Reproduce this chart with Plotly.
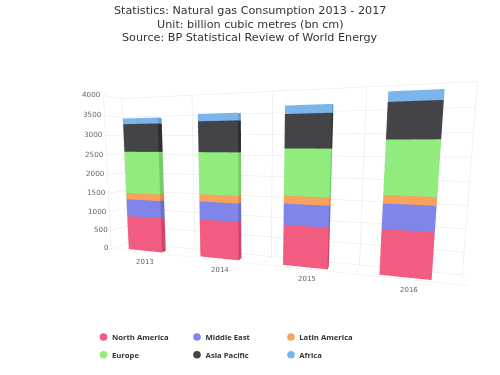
import plotly.graph_objects as go

years = ["2013", "2014", "2015", "2016"]
series = ["North America", "Middle East", "Latin America", "Europe", "Asia Pacific", "Africa"]
north_america = [900, 940, 950, 1000]
middle_east = [445, 445, 487, 544]
latin_america = [170, 180, 182, 177]
europe = [1067, 1017, 1054, 1136]
asia_pacific = [697, 727, 749, 748]
africa = [143, 172, 182, 204]
z_ticks = [0, 500, 1000, 1500, 2000, 2500, 3000, 3500, 4000]
values = [north_america, middle_east, latin_america, europe, asia_pacific, africa]
front = ["#f15c80", "#8085e9", "#f7a35c", "#90ed7d", "#434348", "#7cb5ec"]
side = ["#d0466a", "#6a6fc9", "#d98b47", "#78cc66", "#2f2f33", "#66a0d6"]
top = ["#f7809c", "#a0a4f0", "#fbbd85", "#aef5a0", "#66666c", "#a0cdf4"]

BAR_W = 0.24
BAR_C = 0.46
D0, D1 = 0.17, 0.42

def box_mesh(bases, tops, colf, cols, colt):
    xs, ys, zs, I, J, K, FC = [], [], [], [], [], [], []
    for c, (b, t) in enumerate(zip(bases, tops)):
        n = len(xs)
        x0, x1 = c + BAR_C - BAR_W, c + BAR_C + BAR_W
        for z in (b, t):
            xs += [x0, x1, x1, x0]
            ys += [D0, D0, D1, D1]
            zs += [z] * 4
        faces = [((0, 1, 5), colf), ((0, 5, 4), colf),
                 ((1, 2, 6), cols), ((1, 6, 5), cols),
                 ((3, 0, 4), cols), ((3, 4, 7), cols),
                 ((4, 5, 6), colt), ((4, 6, 7), colt)]
        for (a, b_, c_), col in faces:
            I.append(n + a); J.append(n + b_); K.append(n + c_); FC.append(col)
    return xs, ys, zs, I, J, K, FC

fig = go.Figure()
base = [0, 0, 0, 0]
for name, vals, cf, cs, ct in zip(series, values, front, side, top):
    tops = [b + v for b, v in zip(base, vals)]
    xs, ys, zs, I, J, K, FC = box_mesh(base, tops, cf, cs, ct)
    fig.add_trace(go.Mesh3d(x=xs, y=ys, z=zs, i=I, j=J, k=K, facecolor=FC, name=name,
                            legendgroup=name, flatshading=True, showlegend=False, showscale=False,
                            lighting=dict(ambient=1, diffuse=0, specular=0, roughness=1, fresnel=0)))
    base = tops

for idx, name in enumerate(series):
    fig.add_trace(go.Scatter(x=[None], y=[None], mode="markers", name=name, legendgroup=name,
                             marker=dict(color="rgba(0,0,0,0)", size=8),
                             legend="legend" if idx < 3 else "legend2"))

LEG_X = [103.5, 197, 291]
LEG_Y = [337, 354.7]
shapes = []
for idx, col in enumerate(front):
    cx, cy = LEG_X[idx % 3], LEG_Y[idx // 3]
    shapes.append(dict(type="circle", xref="paper", yref="paper", fillcolor=col, line=dict(width=0),
                       x0=(cx - 3.8) / 500, x1=(cx + 3.8) / 500, y0=1 - (cy + 3.8) / 375, y1=1 - (cy - 3.8) / 375))

axis_common = dict(showbackground=False, gridcolor="#e6e6e6", gridwidth=1, zeroline=False,
                   showspikes=False, title="", showline=False, linecolor="#e6e6e6")
legend_common = dict(orientation="h", xanchor="left", yanchor="middle", entrywidth=48.6,
                     entrywidthmode="pixels", itemsizing="constant",
                     bgcolor="rgba(0,0,0,0)",
                     font=dict(family="Open Sans", size=7.7, color="#333333", weight="bold"))

titles = ["Statistics: Natural gas Consumption 2013 - 2017", "Unit: billion cubic metres (bn cm)",
          "Source: BP Statistical Review of World Energy"]
TITLE_Y = [11, 24.5, 37.5]
anns = [dict(text=t, x=0.5, y=1 - yy / 375, xref="paper", yref="paper", showarrow=False, yanchor="middle",
             font=dict(family="DejaVu Sans", size=11.2, color="#333333")) for t, yy in zip(titles, TITLE_Y)]

year_anns = [dict(x=i + 0.5, y=0, z=0, text=y, showarrow=False, yshift=-11,
                  font=dict(family="DejaVu Sans", size=7, color="#666666"))
             for i, y in enumerate(years)]
tick_anns = [dict(x=0, y=0, z=v, text=str(v), showarrow=False, xanchor="right", xshift=0,
                  font=dict(family="DejaVu Sans", size=7.2, color="#666666"))
             for v in z_ticks]

fig.update_layout(
    width=500, height=375, margin=dict(l=0, r=0, t=0, b=0), paper_bgcolor="white", plot_bgcolor="white",
    annotations=anns, shapes=shapes,
    xaxis=dict(visible=False), yaxis=dict(visible=False),
    legend={**legend_common, "x": 72 / 500, "y": 1 - 337 / 375},
    legend2={**legend_common, "x": 72 / 500, "y": 1 - 354.7 / 375},
    scene=dict(
        domain=dict(x=[0, 1], y=[0, 0.9]),
        aspectmode="manual", aspectratio=dict(x=1.75, y=0.15, z=0.82),
        camera=dict(eye=dict(x=0.594, y=-1.867, z=0.148), center=dict(x=-0.094, y=0.013, z=-0.15),
                    up=dict(x=0, y=0, z=1)),
        xaxis=dict(**axis_common, range=[0, 4], tickvals=[0, 1, 2, 3, 4], showticklabels=False),
        yaxis=dict(**axis_common, range=[0, 1], tickvals=[0, 1], showticklabels=False),
        zaxis=dict(**axis_common, range=[0, 4000], tickvals=z_ticks, showticklabels=False),
        annotations=year_anns + tick_anns,
    ),
)
fig.write_html("out.html", config=dict(displayModeBar=False), post_script="document.body.style.margin='0';")
